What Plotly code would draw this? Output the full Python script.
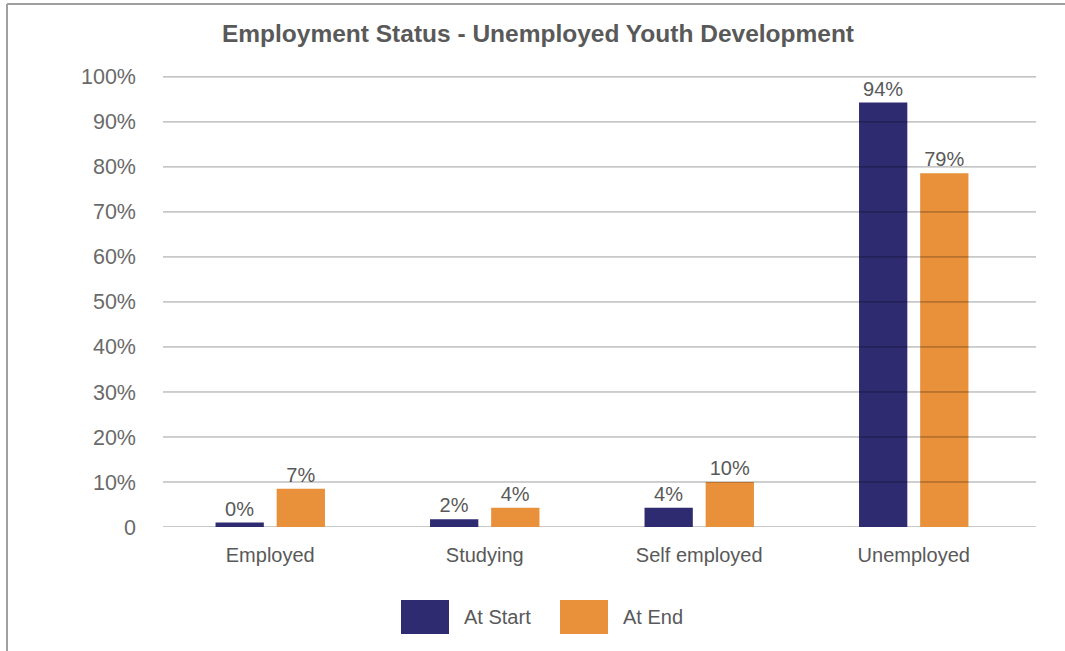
import plotly.graph_objects as go

# ---- data ----
categories = ["Employed", "Studying", "Self employed", "Unemployed"]
series_names = ["At Start", "At End"]
at_start = [1.0, 1.7, 4.3, 94.3]
at_end = [8.5, 4.3, 10.0, 78.6]
at_start_labels = ["0%", "2%", "4%", "94%"]
at_end_labels = ["7%", "4%", "10%", "79%"]
y_tick_values = [0, 10, 20, 30, 40, 50, 60, 70, 80, 90, 100]
y_tick_labels = ["0", "10%", "20%", "30%", "40%", "50%", "60%", "70%", "80%", "90%", "100%"]

# ---- style ----
W, H = 1065, 651
L, R, T, B = 163, 29, 76, 124
NAVY = "#2E2B70"
ORANGE = "#E8903A"
TEXT = "#595959"
FONT = "Liberation Sans, Arial, sans-serif"
colors = [NAVY, ORANGE]

def px_x(px):
    return (px - L) / (W - L - R)

def px_y(py):
    return (H - B - py) / (H - T - B)

fig = go.Figure()
for name, vals, labs, col in zip(series_names, [at_start, at_end],
                                 [at_start_labels, at_end_labels], colors):
    fig.add_trace(go.Bar(
        x=categories, y=vals, name=name, marker=dict(color=col, line=dict(width=0)),
        text=labs, textposition="outside", constraintext="none", cliponaxis=False,
        textfont=dict(size=20, color=TEXT, family=FONT), showlegend=False,
        hoverinfo="x+y",
    ))

shapes = []
# gridlines drawn above the bars, as in the reference
for v in y_tick_values[1:]:
    shapes.append(dict(type="line", xref="paper", yref="y", x0=0, x1=1, y0=v, y1=v,
                       line=dict(color="rgba(0,0,0,0.38)", width=1), layer="above"))
shapes.append(dict(type="line", xref="paper", yref="y", x0=0, x1=1, y0=0, y1=0,
                   line=dict(color="#C8C8C8", width=2), layer="below"))
# outer frame (top and left edges visible)
shapes.append(dict(type="line", xref="paper", yref="paper", x0=px_x(7), x1=px_x(1070),
                   y0=px_y(4), y1=px_y(4), line=dict(color="#A0A0A0", width=2)))
shapes.append(dict(type="line", xref="paper", yref="paper", x0=px_x(7), x1=px_x(7),
                   y0=px_y(4), y1=px_y(660), line=dict(color="#A0A0A0", width=2)))

# custom legend with large swatches
annotations = []
legend_items = [(series_names[0], NAVY, 401), (series_names[1], ORANGE, 560)]
for name, col, x0 in legend_items:
    shapes.append(dict(type="rect", xref="paper", yref="paper",
                       x0=px_x(x0), x1=px_x(x0 + 48), y0=px_y(634), y1=px_y(600),
                       fillcolor=col, line=dict(width=0)))
    annotations.append(dict(xref="paper", yref="paper", x=px_x(x0 + 61), y=px_y(617),
                            text=name, showarrow=False, xanchor="left", yanchor="middle",
                            font=dict(size=20, color=TEXT, family=FONT)))

fig.update_layout(
    width=W, height=H,
    margin=dict(l=L, r=R, t=T, b=B, pad=0),
    paper_bgcolor="white", plot_bgcolor="white",
    title=dict(text="<b>Employment Status - Unemployed Youth Development</b>",
               x=px_x(538), xref="paper", xanchor="center",
               y=1 - 33 / H, yanchor="middle",
               font=dict(size=24.5, color=TEXT, family=FONT)),
    barmode="group", bargap=0.43, bargroupgap=0.21,
    showlegend=False,
    font=dict(family=FONT, color=TEXT),
    shapes=shapes, annotations=annotations,
)
fig.update_xaxes(range=[-0.5, 3.57], showgrid=False, showline=False, zeroline=False,
                 tickfont=dict(size=20, color=TEXT, family=FONT), ticks="",
                 ticklabelstandoff=14)
fig.update_yaxes(range=[0, 100.2], tickvals=y_tick_values, ticktext=y_tick_labels,
                 showgrid=False, zeroline=False, showline=False, ticks="",
                 tickfont=dict(size=21.5, color="#6A6A6A", family=FONT),
                 ticklabelstandoff=26)

fig.write_html("out.html")
